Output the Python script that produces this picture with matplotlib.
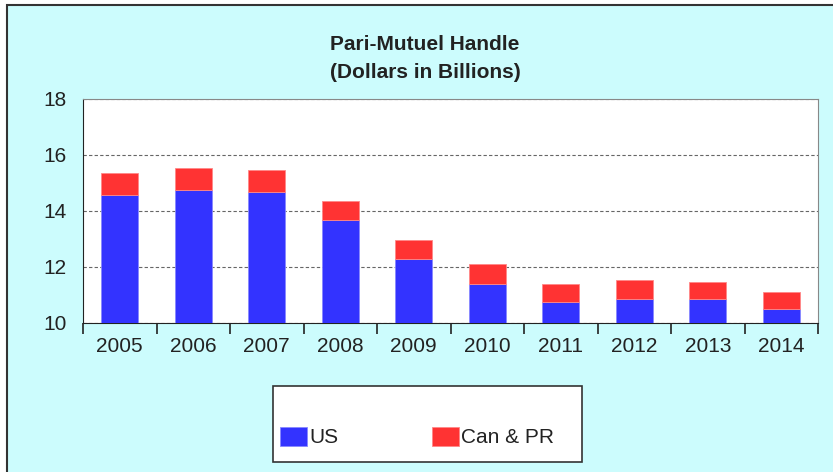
import matplotlib.pyplot as plt
from matplotlib.patches import Rectangle
import numpy as np

plt.rcParams['font.family'] = ['Liberation Sans', 'DejaVu Sans']

years = ['2005', '2006', '2007', '2008', '2009', '2010', '2011', '2012', '2013', '2014']
us = [14.57, 14.76, 14.68, 13.67, 12.29, 11.41, 10.74, 10.86, 10.86, 10.50]
can_pr = [0.78, 0.78, 0.80, 0.67, 0.68, 0.68, 0.67, 0.68, 0.62, 0.62]

W, H = 833, 472
fig = plt.figure(figsize=(W / 100, H / 100), dpi=100)
fig.patch.set_facecolor('white')

# cyan panel with dark border (cropped at right/bottom)
fig.patches.append(Rectangle((7 / W, -0.1), 1.2, (H - 5) / H + 0.1, transform=fig.transFigure,
                             facecolor='#CCFCFD', edgecolor='#333333', linewidth=1.5, zorder=-10))

ax = fig.add_axes([83 / W, 1 - 323 / H, (818 - 83) / W, (323 - 99) / H])
ax.set_facecolor('white')

x = np.arange(len(years))
base = 10
us_h = [v - base for v in us]
ax.bar(x, us_h, bottom=base, width=0.5, color='#3333FF', edgecolor='#8888FF', linewidth=0.6,
       label='US', zorder=3)
ax.bar(x, can_pr, bottom=us, width=0.5, color='#FF3333', edgecolor='#FF8888', linewidth=0.6,
       label='Can & PR', zorder=3)

ax.set_xlim(-0.5, len(years) - 0.5)
ax.set_ylim(10, 18)
ax.set_yticks([10, 12, 14, 16, 18])
ax.tick_params(axis='y', length=0, labelsize=15, pad=12, labelcolor='#222222')
ax.yaxis.grid(True, linestyle=(0, (3, 2)), color='#666666', linewidth=0.8, zorder=1)

ax.set_xticks(x)
ax.set_xticklabels(years, fontsize=15, color='#222222')
ax.set_xticks(np.arange(len(years) + 1) - 0.5, minor=True)
ax.tick_params(axis='x', which='major', length=0, pad=10)
ax.tick_params(axis='x', which='minor', length=8, width=1.2, color='#222222', direction='out')

ax.spines['left'].set_color('#222222')
ax.spines['bottom'].set_color('#222222')
ax.spines['top'].set_color('#888888')
ax.spines['right'].set_color('#888888')

fig.text(425 / W, 1 - 45 / H, 'Pari-Mutuel Handle', ha='center', va='center',
         fontsize=15, fontweight='bold', color='#222222')
fig.text(425 / W, 1 - 72 / H, '(Dollars in Billions)', ha='center', va='center',
         fontsize=15, fontweight='bold', color='#222222')

# legend box
fig.patches.append(Rectangle((273 / W, 1 - 462 / H), (582 - 273) / W, (462 - 386) / H,
                             transform=fig.transFigure, facecolor='white', edgecolor='#333333',
                             linewidth=1.2, zorder=2))
leg = fig.legend(loc='center left', bbox_to_anchor=(280 / W, 1 - 437 / H), ncol=2, frameon=False,
                 fontsize=15, handlelength=1.3, handleheight=1.05, handletextpad=0.1,
                 columnspacing=4.5, borderpad=0, borderaxespad=0, labelcolor='#222222')

fig.savefig('out.png', dpi=100, facecolor=fig.get_facecolor())
